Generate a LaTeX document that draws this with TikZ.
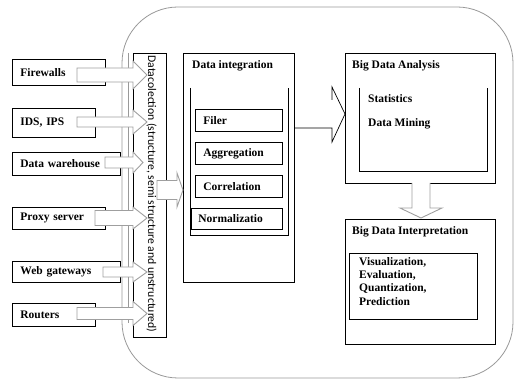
\documentclass[tikz,border=0pt]{standalone}
\usepackage{fontspec}
\setmainfont{Liberation Serif}
\newfontfamily\carlito{Carlito}
\usepackage{graphicx}
\begin{document}
\begin{tikzpicture}[x=1pt,y=-1pt,
  txt/.style={font=\fontsize{11.5}{13.3}\selectfont\bfseries},
  lbox/.style={txt, draw=black, line width=0.8pt, anchor=north west, align=left,
     inner xsep=8pt, inner ysep=0pt},
  tlabel/.style={txt, anchor=west, inner sep=0pt},
  frame/.style={draw=black, line width=0.8pt},
  barr/.style={draw=gray!75, fill=white, line width=0.9pt, line join=miter},
  outer/.style={draw=gray!80, line width=0.8pt}]
\useasboundingbox (0,0) rectangle (514,379);

% big rounded enclosure
\draw[outer, rounded corners=56pt] (122,7) rectangle (513,378);
\draw[outer] (128,53) -- (128,323);

% data collection bar
\node[frame, draw, anchor=north west, minimum width=33pt, minimum height=284pt, inner sep=0pt] (bar) at (133,53) {};
\node[rotate=-90, inner sep=0pt] (bartxt) at (151.5,194) {\resizebox{277pt}{!}{\carlito Datacolection (structure, semi structure and unstructured)}};

% source boxes
\node[lbox, text width=77pt, minimum height=26pt] (fw) at (12,59) {Firewalls};
\node[lbox, text width=67pt, minimum height=29pt] (ids) at (12,108) {IDS, IPS};
\node[lbox, text width=92pt, minimum height=23pt] (dw) at (12,152) {Data warehouse};
\node[lbox, text width=77pt, minimum height=22pt] (px) at (12,207) {Proxy server};
\node[lbox, text width=92pt, minimum height=21pt] (wg) at (12,261) {Web gateways};
\node[lbox, text width=67pt, minimum height=23pt] (rt) at (12,303) {Routers};

% block arrows  x0, xbase, xtip, ycenter, shaft half, head half
\newcommand{\blkarrow}[6]{%
  \filldraw[barr] (#1,#4-#5) -- (#2,#4-#5) -- (#2,#4-#6) -- (#3,#4) -- (#2,#4+#6)
     -- (#2,#4+#5) -- (#1,#4+#5) -- cycle;}
\blkarrow{77}{133}{147}{75}{7}{14}
\blkarrow{77}{133}{147}{122}{5}{12}
\blkarrow{105}{133}{143}{162.5}{5.5}{10.5}
\blkarrow{95}{133}{147}{218}{7.5}{11}
\blkarrow{103}{133}{147}{272}{5}{10}
\blkarrow{77}{133}{147}{313.5}{6}{12}

% data integration
\node[frame, anchor=north west, minimum width=111pt, minimum height=229pt, inner sep=0pt] (di) at (183,53) {};
\node[tlabel] (dit) at (192,66) {Data integration};
\draw[frame] (190,88) -- (190,235) -- (288,235) -- (288,88);
\node[lbox, text width=71pt, minimum height=22pt] (filer) at (195,109) {Filer};
\node[lbox, text width=71pt, minimum height=22pt] (aggr) at (195,142) {Aggregation};
\node[lbox, text width=71pt, minimum height=22pt] (corr) at (195,175) {Correlation};
\node[lbox, text width=77pt, minimum height=21pt, inner xsep=7pt] (norm) at (191,208) {Normalizatio};

% bar -> data integration
\blkarrow{157}{177}{183}{190}{9.5}{17}

% big data analysis
\node[frame, anchor=north west, minimum width=150pt, minimum height=130pt, inner sep=0pt] (bda) at (345,53) {};
\node[tlabel] (bdat) at (352,66) {Big Data Analysis};
\draw[frame] (359,88) -- (359,171) -- (487,171) -- (487,88);
\node[tlabel] (stat) at (368,98.5) {Statistics};
\node[tlabel] (dm) at (368,124) {Data Mining};

% di -> bda outline arrow
\coordinate (a1) at (di.east |- 0,128);
\draw[black, line width=0.7pt] (a1) -- (332,128) -- (332,142) -- (bda.west |- 0,114) -- (332,87) -- (332,100);

% big data interpretation
\node[frame, anchor=north west, minimum width=150pt, minimum height=125pt, inner sep=0pt] (bdi) at (345,219) {};
\node[tlabel] (bdit) at (352,232) {Big Data Interpretation};
\node[frame, anchor=north west, minimum width=128pt, minimum height=66pt, inner sep=0pt] (inner) at (349,253) {};
\node[txt, anchor=north west, align=left, inner sep=0pt] (vis) at (359,257) {Visualization,\\Evaluation,\\Quantization,\\Prediction};

% bda -> bdi block arrow
\filldraw[barr] (412,183) -- (412,208) -- (400,208) -- (421,218) -- (442,208) -- (430,208) -- (430,183);
\end{tikzpicture}
\end{document}
